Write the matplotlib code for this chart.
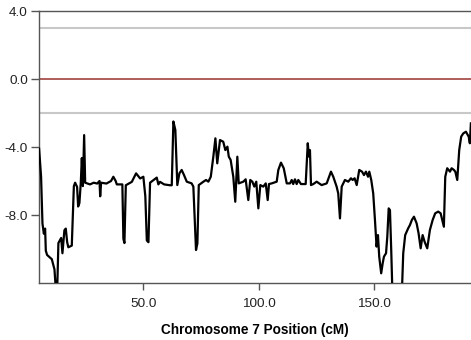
import matplotlib
matplotlib.use("Agg")
import matplotlib.pyplot as plt
from matplotlib.ticker import FormatStrFormatter

# LOD profile along chromosome 7
position_cm = [
    4.85, 5.7, 6.3, 6.9, 7.45, 7.75, 8.3, 10.35, 11.5, 12.2, 12.65, 13.2, 13.8,
    14.4, 14.95, 15.8, 16.4, 17.0, 17.5, 19.0, 19.9, 20.45, 21.3, 21.75, 22.3,
    22.9, 23.35, 23.8, 24.35, 24.8, 26.9, 28.5, 30.0, 31.0, 31.3, 31.7, 34.0,
    36.0, 37.0, 38.0, 38.5, 40.9, 41.35, 41.8, 42.4, 45.0, 46.85, 48.6, 50.0,
    50.85, 51.5, 52.2, 52.9, 55.8, 56.5, 57.2, 59.0, 61.55, 62.3, 63.0, 63.85,
    64.7, 65.6, 66.6, 67.6, 68.8, 70.9, 71.65, 72.8, 73.4, 74.0, 76.0, 77.15,
    78.15, 79.2, 80.3, 81.2, 82.0, 83.2, 84.6, 85.5, 86.4, 87.0, 87.8, 88.95,
    89.8, 90.7, 91.3, 93.3, 94.3, 95.45, 96.3, 97.2, 98.05, 98.9, 99.8, 100.65,
    101.95, 103.0, 103.85, 104.4, 105.6, 107.75, 108.45, 109.6, 110.8, 112.1,
    113.5, 114.25, 114.9, 115.65, 116.4, 117.1, 118.25, 120.3, 121.2, 121.75,
    122.15, 122.6, 123.6, 125.05, 127.2, 129.4, 131.25, 132.25, 133.7, 134.4,
    135.15, 135.9, 137.3, 138.75, 139.9, 140.65, 141.5, 142.4, 143.5, 144.7,
    145.55, 146.4, 147.3, 147.85, 148.7, 149.55, 150.3, 151.0, 151.6, 152.15,
    153.0, 153.65, 154.2, 155.1, 155.65, 156.25, 156.8, 157.35, 157.95, 161.85,
    162.55, 163.4, 164.7, 165.45, 166.3, 167.2, 168.35, 169.2, 170.1, 170.95,
    171.8, 172.95, 174.1, 175.3, 176.4, 177.7, 178.75, 180.15, 180.75, 181.6,
    182.8, 183.5, 184.5, 185.1, 185.95, 186.8, 187.65, 188.55, 189.7, 190.9,
    191.4, 191.85,
]
lod = [
    -4.1, -5.75, -8.5, -9.1, -8.8, -10.1, -10.35, -10.6, -11.2, -12.6, -12.6,
    -9.65, -9.5, -9.35, -10.25, -8.9, -8.8, -9.6, -9.9, -9.8, -6.3, -6.1, -6.35,
    -7.5, -7.3, -6.1, -4.65, -6.3, -3.3, -6.1, -6.2, -6.1, -6.15, -6.0, -6.9,
    -6.1, -6.15, -6.0, -5.75, -6.0, -6.2, -6.2, -9.4, -9.65, -6.25, -6.05,
    -5.55, -5.85, -5.75, -6.9, -9.5, -9.6, -6.1, -5.8, -6.2, -6.05, -6.2,
    -6.25, -6.25, -2.5, -3.0, -6.24, -5.55, -5.35, -5.65, -6.04, -6.14, -6.33,
    -10.06, -9.67, -6.24, -6.04, -5.94, -6.04, -5.75, -4.57, -3.49, -4.96,
    -3.59, -3.69, -4.18, -3.98, -4.57, -4.76, -5.75, -7.22, -4.57, -6.14,
    -6.04, -5.9, -7.12, -5.94, -6.04, -6.33, -6.04, -7.61, -6.24, -6.33, -6.14,
    -7.12, -6.18, -6.14, -6.04, -5.35, -4.92, -5.25, -6.14, -6.14, -5.94,
    -6.18, -5.9, -6.18, -5.94, -6.18, -6.18, -3.78, -4.57, -4.18, -6.24, -6.18,
    -6.04, -6.24, -6.14, -5.45, -5.75, -6.33, -6.73, -8.2, -6.33, -5.94, -6.04,
    -5.84, -5.94, -5.84, -6.24, -5.35, -5.45, -5.65, -5.45, -5.75, -5.45,
    -5.94, -6.73, -8.29, -9.86, -9.18, -10.45, -11.43, -10.84, -10.45, -10.25,
    -9.27, -7.61, -7.71, -10.06, -13.0, -13.0, -10.25, -9.18, -8.78, -8.59,
    -8.29, -8.1, -8.49, -9.08, -9.96, -9.18, -9.57, -9.96, -8.88, -8.29, -7.9,
    -7.8, -7.9, -8.69, -5.75, -5.25, -5.45, -5.25, -5.35, -5.45, -5.94, -4.18,
    -3.39, -3.2, -3.1, -3.39, -3.78, -2.61,
]

threshold_levels = [3.0, -2.0]
zero_level = 0.0
y_ticks = [4.0, 0.0, -4.0, -8.0]
x_ticks = [50.0, 100.0, 150.0]

plt.rcParams["font.family"] = ["Liberation Sans", "DejaVu Sans"]
plt.rcParams["axes.unicode_minus"] = False

fig = plt.figure(figsize=(4.71, 3.40), dpi=100)
ax = fig.add_axes([39 / 471, 1 - 283 / 340, 1 - 39 / 471, 272 / 340])

for lvl in threshold_levels:
    ax.axhline(lvl, color="#c8c8c8", linewidth=1.5, zorder=1)
ax.axhline(zero_level, color="#a8504c", linewidth=1.3, zorder=1)
ax.plot(position_cm, lod, color="black", linewidth=1.6, zorder=3)

ax.set_xlim(4.8, 191.9)
ax.set_ylim(-12, 4)
ax.set_yticks(y_ticks)
ax.set_xticks(x_ticks)
ax.yaxis.set_major_formatter(FormatStrFormatter("%.1f"))
ax.xaxis.set_major_formatter(FormatStrFormatter("%.1f"))
ax.tick_params(direction="out", width=1, color="#555555",
               labelsize=9.7, labelcolor="#222222")
ax.tick_params(axis="y", length=6, pad=2)
ax.tick_params(axis="x", length=5, pad=6)
for side in ("left", "bottom", "top"):
    ax.spines[side].set_color("#555555")
    ax.spines[side].set_linewidth(1.0)
ax.spines["right"].set_visible(False)

ax.set_xlabel("Chromosome 7 Position (cM)", fontsize=9.8, fontweight="bold",
              labelpad=9)

fig.savefig("out.png", dpi=100)
